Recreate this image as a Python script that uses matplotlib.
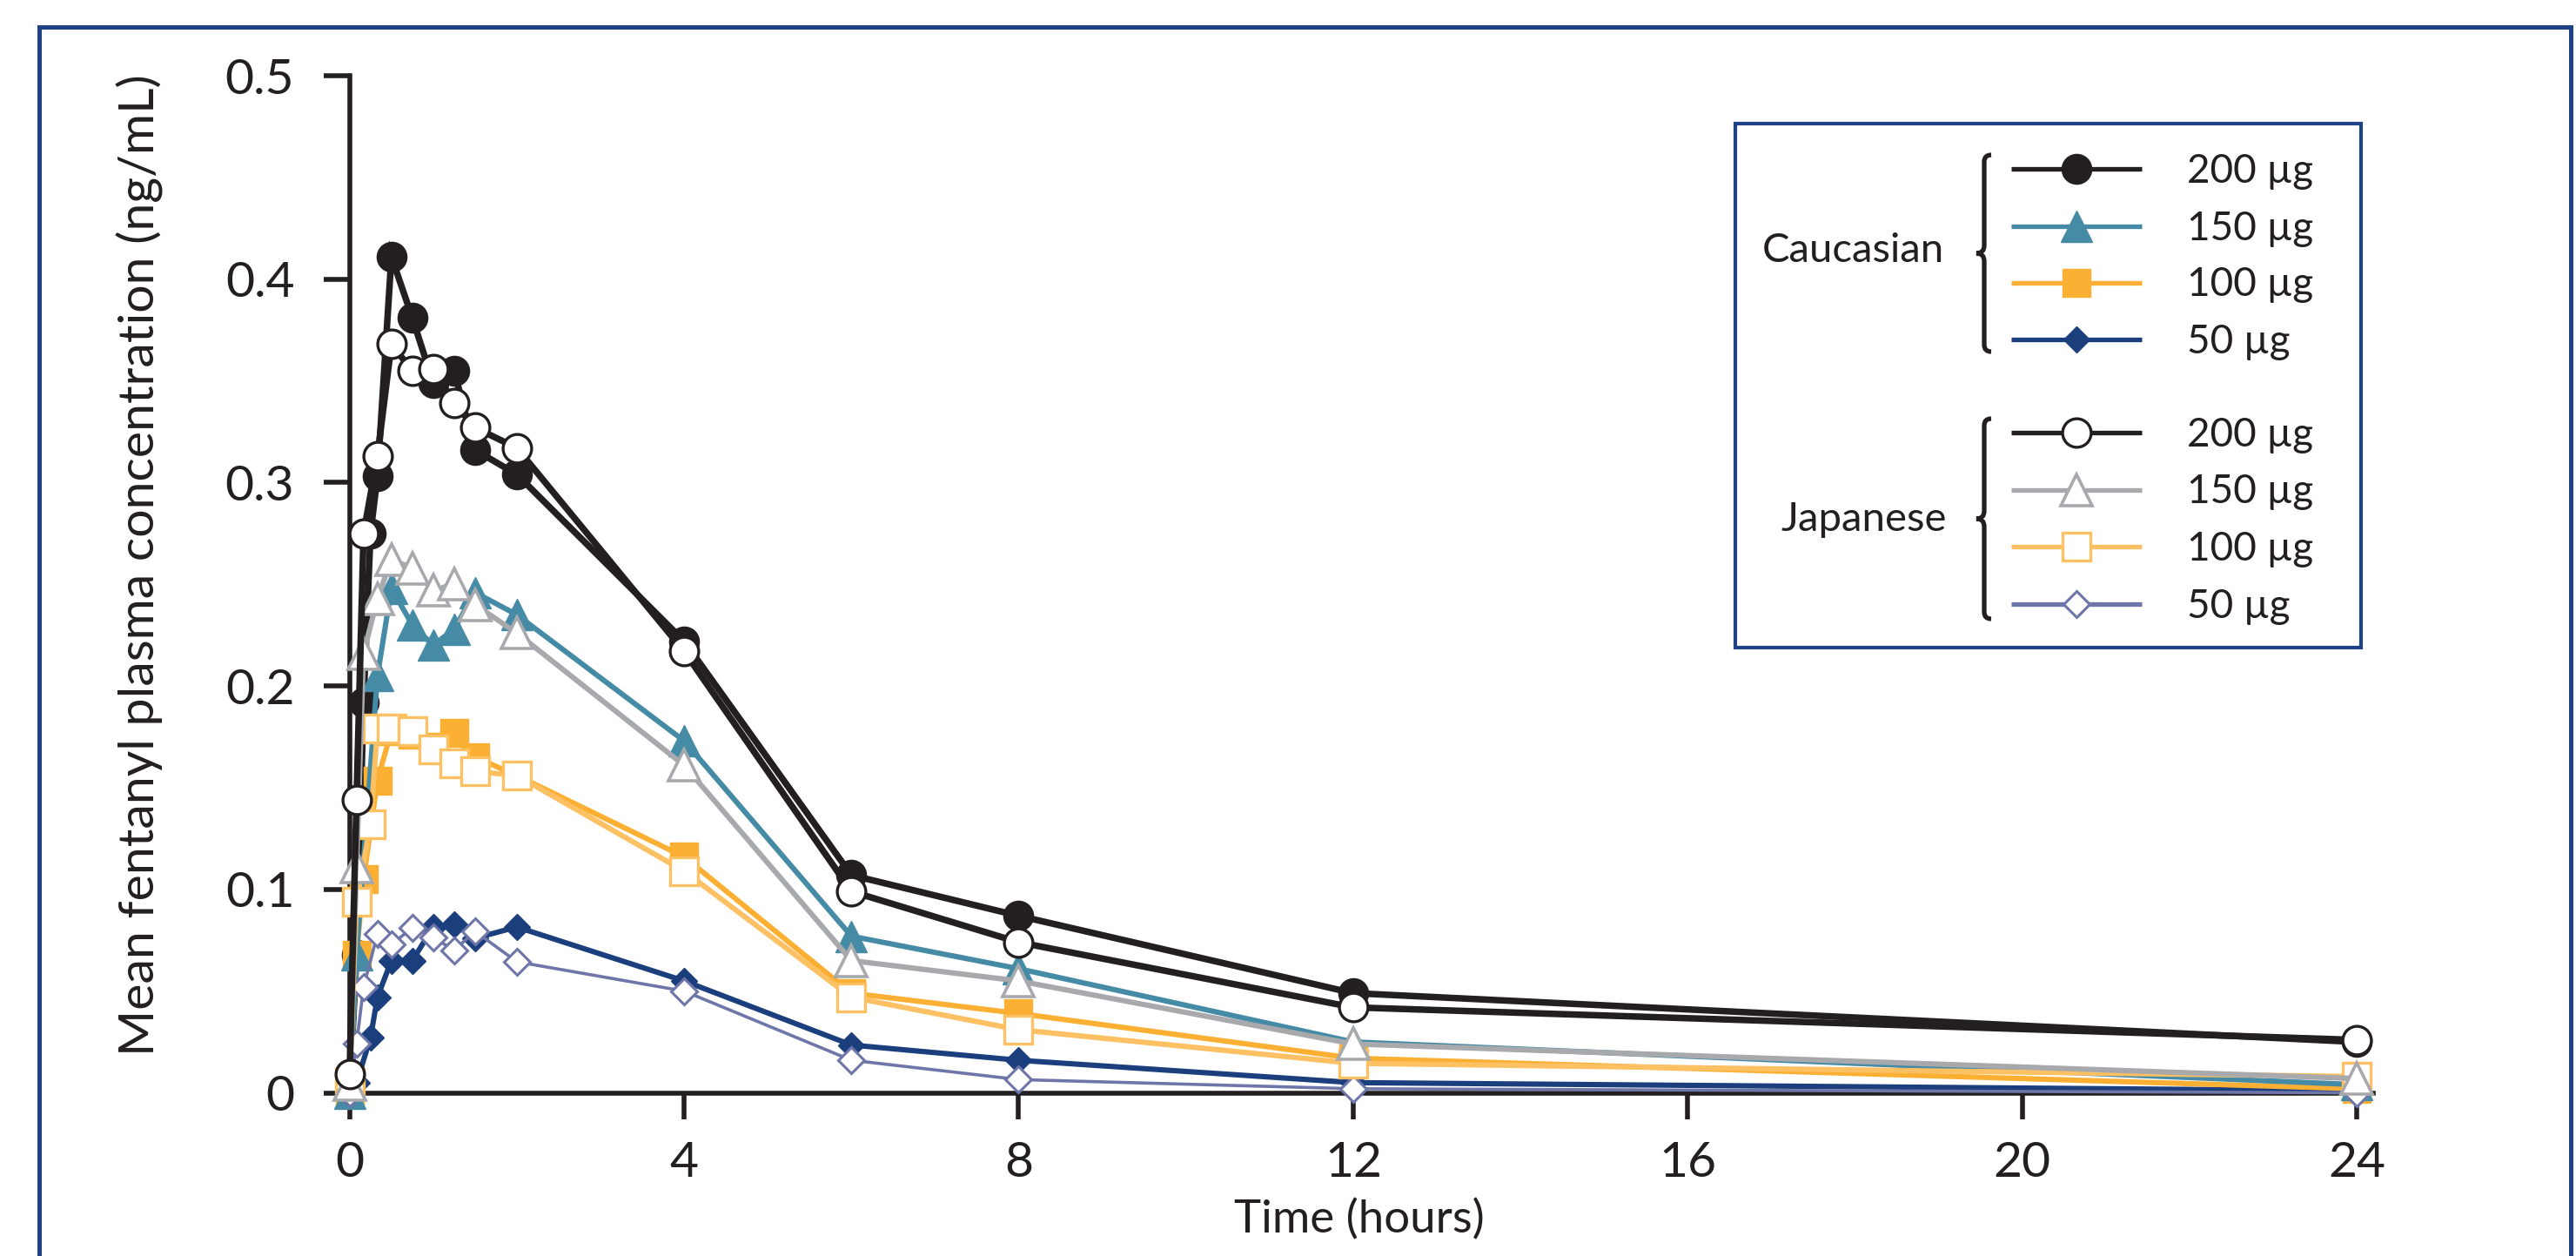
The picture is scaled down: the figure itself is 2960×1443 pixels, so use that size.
import matplotlib
matplotlib.use("Agg")
import matplotlib.pyplot as plt
from matplotlib.path import Path
from matplotlib.patches import PathPatch, Rectangle

plt.rcParams['font.family'] = ['Lato', 'DejaVu Sans']

# ---------------- data ----------------
t_cau200 = [0, 0.083, 0.167, 0.25, 0.333, 0.5, 0.75, 1, 1.25, 1.5, 2, 4, 6, 8, 12, 24]
cau200 = [0, 0.068, 0.192, 0.275, 0.303, 0.411, 0.381, 0.349, 0.355, 0.316, 0.304, 0.222, 0.107, 0.087, 0.049, 0.025]

t_cau150 = [0, 0.083, 0.333, 0.5, 0.75, 1, 1.25, 1.5, 2, 4, 6, 8, 12, 24]
cau150 = [0, 0.068, 0.205, 0.248, 0.230, 0.220, 0.228, 0.246, 0.235, 0.173, 0.077, 0.061, 0.025, 0.004]

t_cau100 = [0, 0.083, 0.167, 0.333, 0.5, 0.75, 1, 1.25, 1.5, 2, 4, 6, 8, 12, 24]
cau100 = [0, 0.068, 0.105, 0.1535, 0.178, 0.176, 0.170, 0.177, 0.165, 0.156, 0.116, 0.049, 0.039, 0.017, 0.002]

t_cau50 = [0, 0.083, 0.25, 0.333, 0.5, 0.75, 1, 1.25, 1.5, 2, 4, 6, 8, 12, 24]
cau50 = [0, 0.005, 0.027, 0.047, 0.065, 0.065, 0.0815, 0.083, 0.076, 0.0815, 0.055, 0.0235, 0.016, 0.005, 0.001]

t_jap200 = [0, 0.083, 0.167, 0.333, 0.5, 0.75, 1, 1.25, 1.5, 2, 4, 6, 8, 12, 24]
jap200 = [0.009, 0.144, 0.275, 0.313, 0.368, 0.355, 0.356, 0.339, 0.327, 0.317, 0.217, 0.099, 0.074, 0.042, 0.026]

t_jap150 = [0, 0.083, 0.167, 0.333, 0.5, 0.75, 1, 1.25, 1.5, 2, 4, 6, 8, 12, 24]
jap150 = [0.004, 0.111, 0.216, 0.243, 0.262, 0.258, 0.247, 0.250, 0.240, 0.226, 0.161, 0.065, 0.055, 0.024, 0.007]

t_jap100 = [0, 0.083, 0.25, 0.333, 0.5, 0.75, 1, 1.25, 1.5, 2, 4, 6, 8, 12, 24]
jap100 = [0.005, 0.094, 0.132, 0.179, 0.179, 0.178, 0.169, 0.162, 0.158, 0.156, 0.109, 0.047, 0.031, 0.0145, 0.008]

t_jap50 = [0, 0.083, 0.167, 0.333, 0.5, 0.75, 1, 1.25, 1.5, 2, 4, 6, 8, 12, 24]
jap50 = [0, 0.024, 0.052, 0.078, 0.073, 0.081, 0.0765, 0.070, 0.0794, 0.0644, 0.050, 0.016, 0.0065, 0.002, 0.0]

x_ticks = [0, 4, 8, 12, 16, 20, 24]
y_ticks = [0, 0.1, 0.2, 0.3, 0.4, 0.5]
y_ticklabels = ['0', '0.1', '0.2', '0.3', '0.4', '0.5']
dose_labels = ['200 µg', '150 µg', '100 µg', '50 µg']
group_labels = ['Caucasian', 'Japanese']

# ---------------- styles ----------------
BLACK = '#231f20'
TEAL = '#468ba6'
GREY = '#a7a9ac'
ORANGE = '#fbb034'
LORANGE = '#fdc062'
NAVY = '#1b3f7d'
SLATE = '#6e75a8'
FRAME = '#1d4386'

styles = {
    'cau200': dict(color=BLACK, marker='o', ms=12.3, mfc=BLACK, mec=BLACK, mew=0.5, lw=2.7, z=2.5),
    'cau150': dict(color=TEAL, marker='^', ms=12.8, mfc=TEAL, mec=TEAL, mew=0.5, lw=2.2, z=4),
    'cau100': dict(color=ORANGE, marker='s', ms=11.8, mfc=ORANGE, mec=ORANGE, mew=0.5, lw=2.2, z=3),
    'cau50': dict(color=NAVY, marker='D', ms=7.8, mfc=NAVY, mec=NAVY, mew=0.5, lw=2.2, z=2),
    'jap200': dict(color=BLACK, marker='o', ms=11.8, mfc='white', mec=BLACK, mew=1.2, lw=2.7, z=9),
    'jap150': dict(color=GREY, marker='^', ms=12.8, mfc='white', mec=GREY, mew=1.3, lw=2.2, z=8),
    'jap100': dict(color=LORANGE, marker='s', ms=11.3, mfc='white', mec=LORANGE, mew=1.2, lw=2.2, z=7),
    'jap50': dict(color=SLATE, marker='D', ms=7.8, mfc='white', mec=SLATE, mew=1.1, lw=1.3, z=6),
}

series = [
    ('cau50', t_cau50, cau50), ('cau200', t_cau200, cau200), ('cau100', t_cau100, cau100),
    ('cau150', t_cau150, cau150),
    ('jap50', t_jap50, jap50), ('jap100', t_jap100, jap100),
    ('jap150', t_jap150, jap150), ('jap200', t_jap200, jap200),
]

W, H = 2960, 1443
DPI = 200
fig = plt.figure(figsize=(W / DPI, H / DPI), dpi=DPI)
fig.patch.set_facecolor('white')

# ---------------- main axes ----------------
ax = fig.add_axes([401.7 / W, 1 - 1255.5 / H, 2325.6 / W, 1168.5 / H])
for key, t, v in series:
    s = styles[key]
    ax.plot(t, v, color=s['color'], lw=s['lw'], marker=s['marker'], ms=s['ms'],
            mfc=s['mfc'], mec=s['mec'], mew=s['mew'], zorder=s['z'], clip_on=False,
            solid_joinstyle='miter')

ax.set_xlim(0, 24.2)
ax.set_ylim(0, 0.5)
ax.set_xticks(x_ticks)
ax.set_yticks(y_ticks)
ax.set_yticklabels(y_ticklabels)
for sp in ['top', 'right']:
    ax.spines[sp].set_visible(False)
for sp in ['left', 'bottom']:
    ax.spines[sp].set_linewidth(2.0)
    ax.spines[sp].set_color(BLACK)
    ax.spines[sp].set_zorder(1)
ax.tick_params(axis='both', direction='out', length=10.8, width=2.0, color=BLACK,
               labelsize=20.5, labelcolor=BLACK)
ax.tick_params(axis='y', pad=12)
ax.tick_params(axis='x', pad=9)
ax.set_xlabel('Time (hours)', fontsize=19, color=BLACK)
ax.xaxis.set_label_coords(0.499, -0.104)
ax.set_ylabel('Mean fentanyl plasma concentration (ng/mL)', fontsize=20.6, color=BLACK)
ax.yaxis.set_label_coords(-0.092, 0.519)
ax.patch.set_alpha(0)

# ---------------- overlay (frame + legend) in pixel coordinates ----------------
ov = fig.add_axes([0, 0, 1, 1], zorder=10)
ov.set_xlim(0, W)
ov.set_ylim(H, 0)
ov.axis('off')
ov.patch.set_alpha(0)

# outer frame
ov.plot([45, 45, 2953.5, 2953.5], [H + 20, 30.5, 30.5, H + 20], color=FRAME, lw=1.8,
        solid_joinstyle='miter', clip_on=False)

# legend box
ov.add_patch(Rectangle((1994, 142), 719, 602, facecolor='white', edgecolor=FRAME, lw=1.5))


def brace(x, y0, y1, w=8, tip=9):
    ym = (y0 + y1) / 2
    verts = [(x + w, y0), (x, y0), (x, y0 + w),
             (x, ym - tip), (x, ym), (x - tip, ym),
             (x, ym), (x, ym + tip),
             (x, y1 - w), (x, y1), (x + w, y1)]
    codes = [Path.MOVETO, Path.CURVE3, Path.CURVE3,
             Path.LINETO, Path.CURVE3, Path.CURVE3,
             Path.CURVE3, Path.CURVE3,
             Path.LINETO, Path.CURVE3, Path.CURVE3]
    ov.add_patch(PathPatch(Path(verts, codes), facecolor='none', edgecolor=BLACK,
                           lw=1.9, capstyle='butt'))


rows_cau = [193.5, 260, 324.5, 390]
rows_jap = [497, 562.5, 628, 693.5]
keys_cau = ['cau200', 'cau150', 'cau100', 'cau50']
keys_jap = ['jap200', 'jap150', 'jap100', 'jap50']
for rows, keys in [(rows_cau, keys_cau), (rows_jap, keys_jap)]:
    for y, k, lab in zip(rows, keys, dose_labels):
        s = styles[k]
        ov.plot([2311, 2461], [y, y], color=s['color'], lw=1.9, solid_capstyle='butt')
        ov.plot([2386], [y], marker=s['marker'], ms=s['ms'], mfc=s['mfc'], mec=s['mec'],
                mew=s['mew'], color=s['color'])
        ov.text(2513, y + 16, lab, fontsize=16.5, color=BLACK, ha='left', va='baseline')

brace(2280, 178, 404)
brace(2280, 481, 711)
ov.text(2234, 301, group_labels[0], fontsize=17, color=BLACK, ha='right', va='baseline')
ov.text(2237, 610, group_labels[1], fontsize=17, color=BLACK, ha='right', va='baseline')

fig.savefig('out.png', dpi=DPI, facecolor='white')
